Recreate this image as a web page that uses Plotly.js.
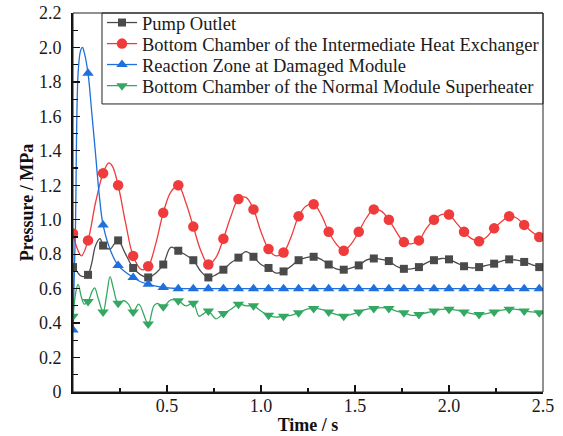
<!DOCTYPE html>
<html>
<head>
<meta charset="utf-8">
<script src="https://cdn.plot.ly/plotly-3.0.1.min.js"></script>
<style>
html,body{margin:0;padding:0;background:#fff;}
#chart{width:563px;height:436px;}
#chart svg text{font-family:"Liberation Serif" !important;}
</style>
</head>
<body>
<div id="chart"></div>
<script>
// ---- data ----
var seriesNames = [
  "Pump Outlet",
  "Bottom Chamber of the Intermediate Heat Exchanger",
  "Reaction Zone at Damaged Module",
  "Bottom Chamber of the Normal Module Superheater"
];
var markerStep = 0.08;

var pumpT = [0,0.02,0.04,0.06,0.08,0.10,0.12,0.144,0.16,0.197,0.22,0.24,0.28,0.32,0.36,0.40,0.44,0.48,0.52,0.56,0.60,0.64,0.68,0.72,0.76,0.80,0.84,0.88,0.92,0.96,1.00,1.04,1.08,1.12,1.16,1.20,1.24,1.28,1.32,1.36,1.40,1.44,1.48,1.52,1.56,1.60,1.64,1.68,1.72,1.76,1.80,1.84,1.88,1.92,1.96,2.00,2.04,2.08,2.12,2.16,2.20,2.24,2.28,2.32,2.36,2.40,2.44,2.48,2.50];
var pumpP = [0.725,0.70,0.675,0.67,0.68,0.75,0.85,0.89,0.85,0.83,0.86,0.88,0.80,0.72,0.68,0.665,0.69,0.74,0.84,0.82,0.795,0.765,0.70,0.665,0.68,0.71,0.75,0.78,0.815,0.785,0.74,0.72,0.69,0.70,0.73,0.765,0.78,0.785,0.77,0.74,0.715,0.71,0.72,0.735,0.765,0.775,0.77,0.76,0.73,0.715,0.715,0.725,0.75,0.765,0.775,0.77,0.75,0.73,0.72,0.725,0.735,0.745,0.76,0.77,0.765,0.755,0.74,0.725,0.72];

var ihxT = [0,0.02,0.045,0.08,0.12,0.16,0.19,0.21,0.24,0.28,0.32,0.365,0.40,0.44,0.48,0.52,0.56,0.60,0.64,0.68,0.72,0.76,0.80,0.84,0.88,0.92,0.96,1.00,1.04,1.08,1.12,1.16,1.20,1.24,1.28,1.32,1.36,1.40,1.44,1.48,1.52,1.56,1.60,1.64,1.68,1.72,1.76,1.80,1.84,1.88,1.92,1.96,2.00,2.04,2.08,2.12,2.16,2.20,2.24,2.28,2.32,2.36,2.40,2.44,2.48,2.50];
var ihxP = [0.92,0.84,0.79,0.88,1.10,1.27,1.33,1.31,1.20,0.98,0.79,0.71,0.73,0.86,1.04,1.16,1.20,1.10,0.96,0.82,0.74,0.78,0.89,1.02,1.12,1.13,1.06,0.93,0.83,0.79,0.81,0.90,1.02,1.08,1.09,1.03,0.93,0.86,0.82,0.86,0.93,1.01,1.06,1.05,1.00,0.93,0.87,0.86,0.88,0.95,1.00,1.03,1.03,0.98,0.93,0.89,0.875,0.90,0.95,0.99,1.02,1.01,0.97,0.93,0.90,0.89];

var reactT = [0,0.005,0.013,0.027,0.04,0.05,0.06,0.08,0.10,0.12,0.14,0.16,0.20,0.24,0.28,0.32,0.36,0.40,0.44,0.48,0.52,0.56,0.64,0.72,0.80,0.88,0.96,1.04,1.12,1.20,1.28,1.36,1.44,1.52,1.60,1.68,1.76,1.84,1.92,2.00,2.08,2.16,2.24,2.32,2.40,2.48,2.50];
var reactP = [0.36,0.60,0.95,1.85,1.98,2.00,1.97,1.85,1.62,1.38,1.14,0.97,0.82,0.735,0.695,0.665,0.64,0.625,0.615,0.607,0.603,0.60,0.60,0.60,0.60,0.60,0.60,0.60,0.60,0.60,0.60,0.60,0.60,0.60,0.60,0.60,0.60,0.60,0.60,0.60,0.60,0.60,0.60,0.60,0.60,0.60,0.60];

var shT = [0,0.015,0.027,0.045,0.06,0.08,0.10,0.115,0.135,0.16,0.18,0.197,0.215,0.24,0.27,0.295,0.32,0.35,0.40,0.43,0.45,0.48,0.52,0.56,0.60,0.64,0.67,0.695,0.72,0.76,0.80,0.84,0.88,0.92,0.96,1.00,1.04,1.08,1.12,1.16,1.20,1.24,1.28,1.32,1.36,1.40,1.44,1.48,1.52,1.56,1.60,1.64,1.68,1.72,1.76,1.80,1.84,1.88,1.92,1.96,2.00,2.04,2.08,2.12,2.16,2.20,2.24,2.28,2.32,2.36,2.40,2.44,2.48,2.50];
var shP = [0.44,0.58,0.625,0.55,0.51,0.525,0.58,0.605,0.54,0.465,0.57,0.67,0.60,0.515,0.53,0.51,0.465,0.51,0.395,0.50,0.515,0.495,0.535,0.53,0.50,0.515,0.44,0.455,0.47,0.425,0.455,0.48,0.51,0.50,0.50,0.47,0.445,0.435,0.44,0.445,0.46,0.48,0.485,0.48,0.465,0.45,0.44,0.45,0.465,0.48,0.485,0.49,0.485,0.47,0.46,0.445,0.45,0.46,0.47,0.48,0.48,0.475,0.465,0.455,0.45,0.455,0.465,0.475,0.48,0.48,0.47,0.465,0.46,0.455];

var xTickVals = [0.5,1.0,1.5,2.0,2.5];
var xTickText = ["0.5","1.0","1.5","2.0","2.5"];
var yTickVals = [0,0.2,0.4,0.6,0.8,1.0,1.2,1.4,1.6,1.8,2.0,2.2];
var yTickText = ["0","0.2","0.4","0.6","0.8","1.0","1.2","1.4","1.6","1.8","2.0","2.2"];

// ---- styles ----
var FONT = "Liberation Serif";
var styles = [
  {color:"#4a4a4a", symbol:"square", size:8},
  {color:"#ef3b3b", symbol:"circle", size:10.5},
  {color:"#1f6fdc", symbol:"triangle-up", size:10},
  {color:"#34a862", symbol:"triangle-down", size:10}
];
var series = [[pumpT,pumpP],[ihxT,ihxP],[reactT,reactP],[shT,shP]];
var legendIds = ["legend","legend2","legend3","legend4"];
var legendRowY = [0.9736, 0.918, 0.8628, 0.807];
var legendX = 0.0617;

function isMarkerTime(t){ var k=t/markerStep; return Math.abs(k-Math.round(k))<1e-6; }

var traces = [];
series.forEach(function(s,i){
  var st = styles[i];
  traces.push({x:s[0], y:s[1], mode:"lines", type:"scatter", showlegend:false,
    line:{color:st.color, width:1.3, shape:"spline", smoothing:1}, hoverinfo:"skip"});
});
series.forEach(function(s,i){
  var st = styles[i], mx=[], my=[];
  s[0].forEach(function(t,j){ if(isMarkerTime(t)){ mx.push(t); my.push(s[1][j]); } });
  traces.push({x:mx, y:my, mode:"markers", type:"scatter", showlegend:false,
    marker:{color:st.color, symbol:st.symbol, size:st.size}});
});
series.forEach(function(s,i){
  var st = styles[i];
  traces.push({x:[null], y:[null], mode:"lines+markers", type:"scatter", name:seriesNames[i],
    legend:legendIds[i], showlegend:true,
    line:{color:st.color, width:1.3}, marker:{color:st.color, symbol:st.symbol, size:st.size}});
});

var layout = {
  width:563, height:436,
  margin:{l:73, r:20, t:13, b:44, autoexpand:false},
  paper_bgcolor:"#fff", plot_bgcolor:"#fff",
  font:{family:FONT, size:18, color:"#1a1a1a"},
  showlegend:true,
  xaxis:{range:[0,2.5], tickmode:"array", tickvals:xTickVals, ticktext:xTickText,
    ticks:"inside", ticklen:7, tickwidth:1.3, tickcolor:"#111",
    showline:true, linewidth:2, linecolor:"#111", showgrid:false, zeroline:false,
    minor:{tickmode:"linear", tick0:0, dtick:0.25, ticks:"inside", ticklen:4, tickwidth:1.2, tickcolor:"#111", showgrid:false},
    tickfont:{family:FONT, size:18, color:"#1a1a1a"}, ticklabelstandoff:-4,
    title:{text:"<b>Time / s</b>", font:{family:FONT, size:18, color:"#111"}, standoff:4}},
  yaxis:{range:[0,2.2], tickmode:"array", tickvals:yTickVals, ticktext:yTickText,
    ticks:"inside", ticklen:7, tickwidth:1.3, tickcolor:"#111",
    showline:true, linewidth:2, linecolor:"#111", showgrid:false, zeroline:false,
    minor:{tickmode:"linear", tick0:0, dtick:0.1, ticks:"inside", ticklen:5, tickwidth:1.2, tickcolor:"#111", showgrid:false},
    tickfont:{family:FONT, size:18, color:"#1a1a1a"}, ticklabelstandoff:6,
    title:{text:"<b>Pressure / MPa</b>", font:{family:FONT, size:18, color:"#111"}, standoff:1}},
  shapes:[
    {type:"rect", xref:"paper", yref:"paper", x0:0, x1:1, y0:0, y1:1,
      line:{color:"#222", width:1}, fillcolor:"rgba(0,0,0,0)", layer:"above"},
    {type:"rect", xref:"paper", yref:"paper", x0:legendX, x1:1, y0:0.76, y1:1,
      line:{color:"#222", width:1}, fillcolor:"rgba(0,0,0,0)", layer:"above"}
  ]
};
legendIds.forEach(function(id,i){
  layout[id] = {x:legendX, xanchor:"left", y:legendRowY[i], yanchor:"middle",
    bgcolor:"rgba(0,0,0,0)", borderwidth:0,
    font:{family:FONT, size:18.5, color:"#1a1a1a"}};
});

Plotly.newPlot("chart", traces, layout, {staticPlot:true, displayModeBar:false});
</script>
</body>
</html>
